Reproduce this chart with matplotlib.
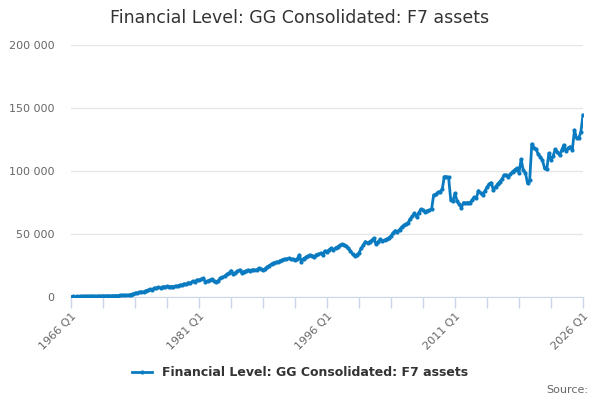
import matplotlib
matplotlib.use("Agg")
import matplotlib.pyplot as plt
from matplotlib.ticker import FuncFormatter, FixedLocator
import numpy as np

title = "Financial Level: GG Consolidated: F7 assets"
series_name = "Financial Level: GG Consolidated: F7 assets"
start_year = 1966

values = [
    300, 400, 350, 500,            # 1966
    450, 500, 600, 550,            # 1967
    600, 700, 650, 750,            # 1968
    700, 800, 750, 900,            # 1969
    850, 950, 900, 1000,           # 1970
    1000, 1100, 1050, 1200,        # 1971
    1200, 1350, 1300, 1600,        # 1972
    1900, 2500, 2900, 3300,        # 1973
    3600, 4200, 3900, 5000,        # 1974
    5300, 6000, 5600, 6900,        # 1975
    7200, 7600, 7300, 8200,        # 1976
    8000, 8400, 8100, 8300,        # 1977
    8200, 8800, 8500, 9500,        # 1978
    9400, 10500, 10000, 11400,     # 1979
    11000, 12500, 12100, 13500,    # 1980
    13500, 14000, 14800, 12100,    # 1981
    12800, 13400, 14000, 12900,    # 1982
    12100, 13000, 14800, 15500,    # 1983
    16500, 18000, 18800, 20900,    # 1984
    18300, 19200, 20500, 21400,    # 1985
    19300, 20200, 20800, 21400,    # 1986
    21000, 21600, 21400, 21500,    # 1987
    22800, 22200, 21400, 22500,    # 1988
    24000, 25000, 26200, 27200,    # 1989
    27500, 27800, 28800, 29500,    # 1990
    29800, 30200, 30700, 30200,    # 1991
    29800, 29400, 30000, 33300,    # 1992
    28000, 30500, 31500, 32500,    # 1993
    33300, 32800, 32000, 33500,    # 1994
    34000, 34700, 33300, 36500,    # 1995
    36000, 37500, 38700, 37300,    # 1996
    39000, 39900, 41000, 41800,    # 1997
    41500, 40500, 38700, 36500,    # 1998
    34000, 32500, 33500, 35000,    # 1999
    38500, 41000, 43900, 43000,    # 2000
    43900, 45000, 46600, 41800,    # 2001
    44000, 45800, 44500, 45200,    # 2002
    46000, 47000, 48400, 51000,    # 2003
    52600, 51800, 53500, 55500,    # 2004
    57000, 57900, 59000, 62000,    # 2005
    64000, 66400, 63700, 67000,    # 2006
    69600, 69000, 67700, 68500,    # 2007
    69000, 69500, 81000, 81500,    # 2008
    83000, 83600, 85400, 95500,    # 2009
    95500, 95000, 77000, 76000,    # 2010
    82300, 76000, 73500, 71000,    # 2011
    75000, 74400, 75000, 74700,    # 2012
    77000, 79100, 78500, 84400,    # 2013
    82500, 81000, 84000, 87100,    # 2014
    89700, 90700, 84900, 87500,    # 2015
    89700, 91500, 93400, 96800,    # 2016
    96800, 95500, 97500, 99500,    # 2017
    101000, 102100, 98700, 109300, # 2018
    100500, 98700, 90200, 92500,   # 2019
    121400, 118500, 117200, 113500,# 2020
    111000, 108700, 102100, 101300,# 2021
    114000, 108700, 112000, 117200,# 2022
    115000, 112700, 116500, 120600,# 2023
    116100, 118000, 119300, 116900,# 2024
    132500, 125900, 126000, 131000,# 2025
    144400,                        # 2026
]

y_ticks = [0, 50000, 100000, 150000, 200000]
x_label_years = [1966, 1981, 1996, 2011, 2026]

color = "#0a7bc1"

fig = plt.figure(figsize=(6, 4), dpi=100)
ax = fig.add_axes([71/600, 1-297/400, (583-71)/600, (297-45)/400])

n = len(values)
x = np.arange(n)
ax.plot(x, values, color=color, lw=2, marker="o", ms=3, mew=0, label=series_name,
        solid_joinstyle="round", zorder=3)

ax.set_xlim(0, 240)
ax.set_ylim(0, 200000)

ax.yaxis.set_major_locator(FixedLocator(y_ticks))
ax.yaxis.set_major_formatter(FuncFormatter(lambda v, p: f"{int(v):,}".replace(",", " ")))
ax.grid(axis="y", color="#e6e6e6", lw=1)
ax.set_axisbelow(True)
ax.tick_params(axis="y", length=0, labelsize=8, labelcolor="#666666", pad=12)

tick_pos = np.arange(0, 241, 15)
label_pos = [(yr - start_year) * 4 for yr in x_label_years]
tick_labels = []
for p in tick_pos:
    if p in label_pos:
        tick_labels.append(f"{x_label_years[label_pos.index(p)]} Q1")
    else:
        tick_labels.append("")
ax.set_xticks(tick_pos)
ax.set_xticklabels(tick_labels, rotation=45, ha="right", va="top", rotation_mode="anchor")
ax.tick_params(axis="x", length=8, color="#ccd6eb", width=1, labelsize=8,
               labelcolor="#666666", pad=2)

for s in ["top", "right", "left"]:
    ax.spines[s].set_visible(False)
ax.spines["bottom"].set_color("#ccd6eb")

fig.text(0.5, 1-18/400, title, ha="center", va="center", fontsize=12.5, color="#333333")

leg = fig.legend(loc="center", bbox_to_anchor=(0.5, 1-373/400), frameon=False,
                 prop={"weight": "bold", "size": 9}, handlelength=1.6, labelcolor="#333333")

fig.text(588/600, 1-390/400, "Source:", ha="right", va="center", fontsize=8, color="#666666")

fig.savefig("out.png", dpi=100)
